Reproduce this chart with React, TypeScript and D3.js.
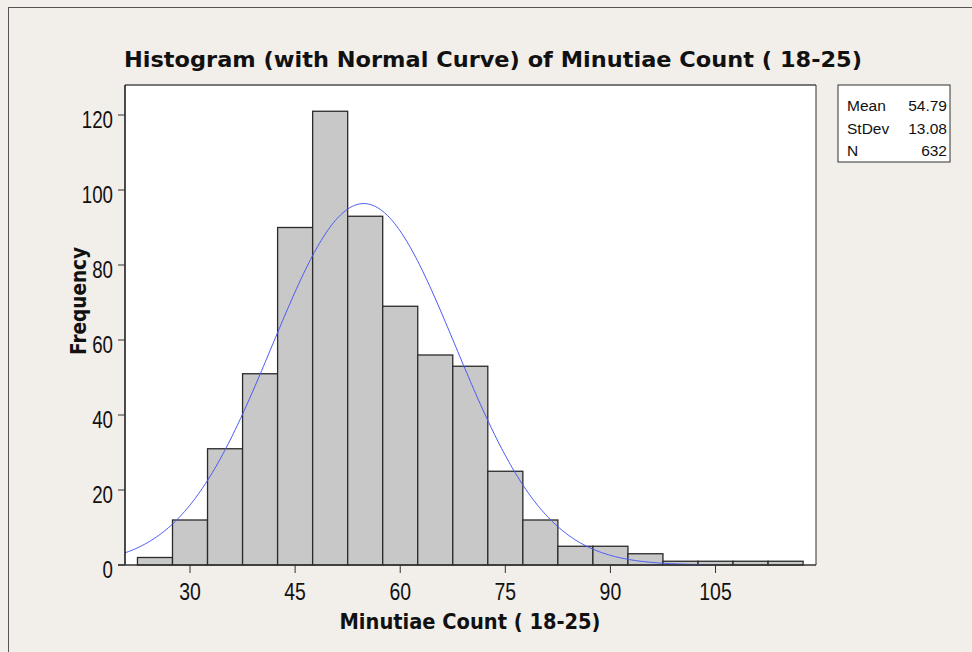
import * as d3 from 'd3';

// histogram bins (centre of each bin) and counts
const binCenters = [25, 30, 35, 40, 45, 50, 55, 60, 65, 70, 75, 80, 85, 90, 95, 100, 105, 110, 115];
const frequencies = [2, 12, 31, 51, 90, 121, 93, 69, 56, 53, 25, 12, 5, 5, 3, 1, 1, 1, 1];
const binWidth = 5;

const xTicks = [30, 45, 60, 75, 90, 105];
const yTicks = [0, 20, 40, 60, 80, 100, 120];

const statLabels = ['Mean', 'StDev', 'N'];
const statValues = ['54.79', '13.08', '632'];
const mean = 54.79;
const stdev = 13.08;
const n = 632;

const W = 972;
const H = 652;
const plot = { left: 125, right: 816, top: 85, bottom: 565 };

const App = () => {
  const x = d3.scaleLinear().domain([20.72, 119.34]).range([plot.left, plot.right]);
  const y = d3.scaleLinear().domain([0, 128]).range([plot.bottom, plot.top]);

  // normal curve scaled to the histogram counts
  const pdf = (v: number) =>
    ((n * binWidth) / (stdev * Math.sqrt(2 * Math.PI))) * Math.exp(-0.5 * ((v - mean) / stdev) ** 2);
  const curvePts = d3.range(20.72, 103.6, 0.25).map((v) => [v, pdf(v)] as [number, number]);
  const line = d3
    .line<[number, number]>()
    .x((d) => x(d[0]))
    .y((d) => y(d[1]));

  const tickFont = 'Liberation Sans, Arial, sans-serif';
  const boldFont = 'DejaVu Sans, Verdana, sans-serif';

  return (
    <svg width={W} height={H} style={{ position: 'absolute', left: 0, top: 0 }}>
      <rect x={0} y={0} width={W} height={H} fill="#f2eee9" />
      <rect x={8.5} y={7.5} width={W + 20} height={H + 20} fill="none" stroke="#555" strokeWidth={1} />

      <text
        x={493}
        y={67}
        textAnchor="middle"
        fontFamily={boldFont}
        fontWeight="bold"
        fontSize={22}
        textLength={738}
        lengthAdjust="spacingAndGlyphs"
        fill="#111"
      >
        Histogram (with Normal Curve) of Minutiae Count ( 18-25)
      </text>

      {/* plot area */}
      <rect
        x={plot.left}
        y={plot.top}
        width={plot.right - plot.left}
        height={plot.bottom - plot.top}
        fill="#fff"
      />
      <line x1={plot.left} x2={plot.right} y1={plot.top} y2={plot.top} stroke="#777" strokeWidth={2} />
      <line x1={plot.right} x2={plot.right} y1={plot.top} y2={plot.bottom} stroke="#333" strokeWidth={1} />

      {binCenters.map((c, i) => (
        <rect
          key={c}
          x={x(c - binWidth / 2)}
          y={y(frequencies[i])}
          width={x(c + binWidth / 2) - x(c - binWidth / 2)}
          height={y(0) - y(frequencies[i])}
          fill="#c8c8c8"
          stroke="#2a2a2a"
          strokeWidth={1.3}
        />
      ))}

      <path d={line(curvePts) || ''} fill="none" stroke="#4a5af5" strokeWidth={1} />

      {/* axes */}
      <line x1={plot.left} x2={plot.left} y1={plot.top} y2={plot.bottom} stroke="#111" strokeWidth={1.5} />
      <line x1={plot.left - 7} x2={plot.right} y1={plot.bottom} y2={plot.bottom} stroke="#333" strokeWidth={1.5} />

      {yTicks.map((t) => (
        <g key={t}>
          <line x1={plot.left - 7} x2={plot.left} y1={y(t)} y2={y(t)} stroke="#333" strokeWidth={1} />
          <text
            x={113}
            y={y(t) + 13}
            textAnchor="end"
            fontFamily={tickFont}
            fontSize={23.5}
            textLength={String(t).length * 10.4}
            lengthAdjust="spacingAndGlyphs"
            fill="#111"
          >
            {t}
          </text>
        </g>
      ))}

      {xTicks.map((t) => (
        <g key={t}>
          <line x1={x(t)} x2={x(t)} y1={plot.bottom} y2={plot.bottom + 8} stroke="#333" strokeWidth={1} />
          <text
            x={x(t)}
            y={600}
            textAnchor="middle"
            fontFamily={tickFont}
            fontSize={23.5}
            textLength={String(t).length * 10.8}
            lengthAdjust="spacingAndGlyphs"
            fill="#111"
          >
            {t}
          </text>
        </g>
      ))}

      <text
        x={470}
        y={629}
        textAnchor="middle"
        fontFamily={boldFont}
        fontWeight="bold"
        fontSize={22}
        textLength={261}
        lengthAdjust="spacingAndGlyphs"
        fill="#111"
      >
        Minutiae Count ( 18-25)
      </text>

      <text
        transform="translate(86, 301) rotate(-90)"
        textAnchor="middle"
        fontFamily={boldFont}
        fontWeight="bold"
        fontSize={22}
        textLength={108}
        lengthAdjust="spacingAndGlyphs"
        fill="#111"
      >
        Frequency
      </text>

      {/* stats box */}
      <rect x={838} y={85} width={112} height={77} fill="#fff" stroke="#333" strokeWidth={1} />
      {statLabels.map((s, i) => (
        <g key={s}>
          <text x={847} y={111 + i * 22.5} fontFamily={tickFont} fontSize={15.5} fill="#111">
            {s}
          </text>
          <text x={947} y={111 + i * 22.5} textAnchor="end" fontFamily={tickFont} fontSize={15.5} fill="#111">
            {statValues[i]}
          </text>
        </g>
      ))}
    </svg>
  );
};

export default App;
